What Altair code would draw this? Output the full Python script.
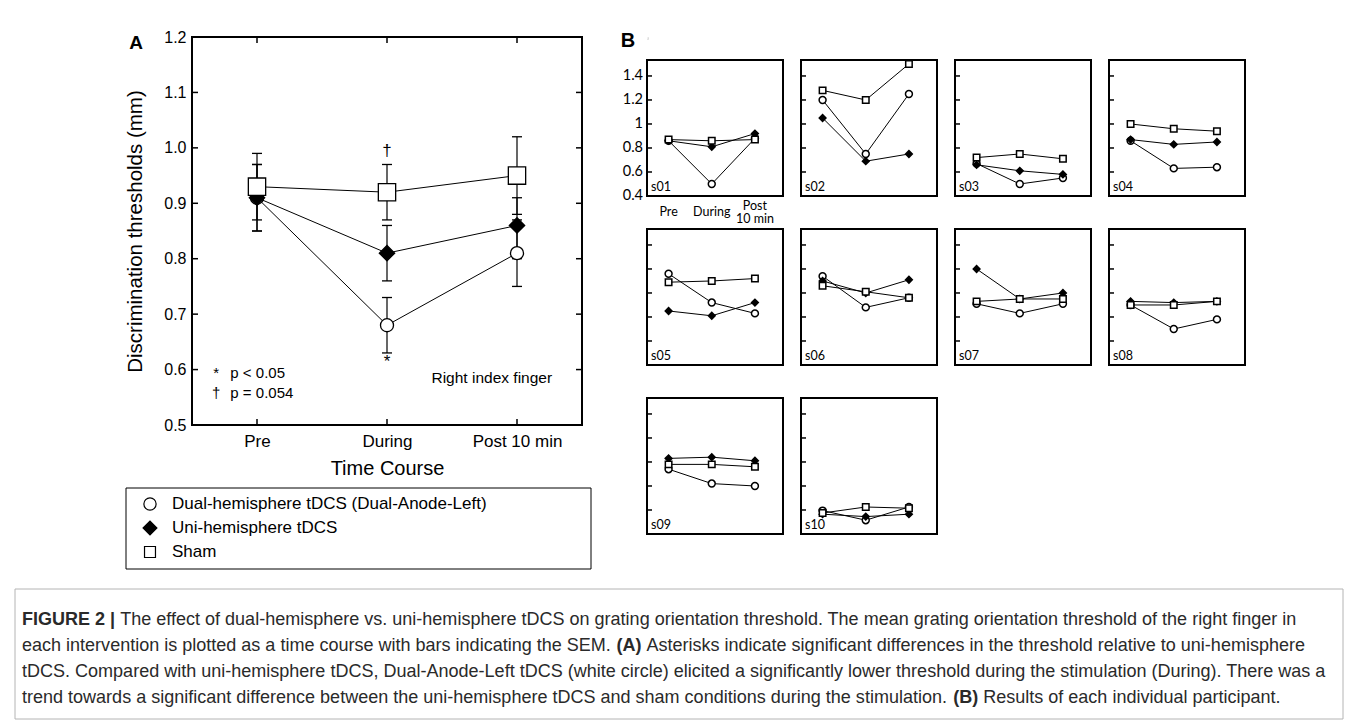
import json
import altair as alt
import pandas as pd

# ---------------- data ----------------
PHASES = ["Pre", "During", "Post 10 min"]
SERIES = ["Dual-hemisphere tDCS (Dual-Anode-Left)", "Uni-hemisphere tDCS", "Sham"]
SHAPES = ["circle", "diamond", "square"]
FILLS = ["white", "black", "white"]

A_dual_mean = [0.91, 0.68, 0.81]
A_dual_lo = [0.85, 0.63, 0.75]
A_dual_hi = [0.97, 0.73, 0.87]
A_uni_mean = [0.91, 0.81, 0.86]
A_uni_lo = [0.85, 0.76, 0.80]
A_uni_hi = [0.97, 0.86, 0.91]
A_sham_mean = [0.93, 0.92, 0.95]
A_sham_lo = [0.87, 0.87, 0.88]
A_sham_hi = [0.99, 0.97, 1.02]
A_yticks = [0.5, 0.6, 0.7, 0.8, 0.9, 1.0, 1.1, 1.2]

SIG_MARKS = ["\u2020", "*"]
SIG_Y = [0.995, 0.613]
NOTE_SYMBOLS = ["*", "\u2020"]
NOTE_TEXTS = ["p < 0.05", "p = 0.054"]
NOTE_Y = [0.593, 0.558]
PANEL_NOTE = "Right index finger"

B_SUBJECTS = ["s01", "s02", "s03", "s04", "s05", "s06", "s07", "s08", "s09", "s10"]
B_dual = {
    "s01": [0.86, 0.50, 0.88], "s02": [1.20, 0.75, 1.25], "s03": [0.67, 0.50, 0.55],
    "s04": [0.86, 0.63, 0.64], "s05": [1.16, 0.92, 0.83], "s06": [1.14, 0.88, 0.96],
    "s07": [0.91, 0.83, 0.91], "s08": [0.90, 0.70, 0.78], "s09": [0.94, 0.82, 0.80],
    "s10": [0.595, 0.515, 0.625],
}
B_uni = {
    "s01": [0.86, 0.81, 0.92], "s02": [1.05, 0.69, 0.75], "s03": [0.66, 0.61, 0.58],
    "s04": [0.87, 0.83, 0.85], "s05": [0.85, 0.81, 0.92], "s06": [1.10, 1.00, 1.11],
    "s07": [1.20, 0.95, 1.00], "s08": [0.93, 0.92, 0.93], "s09": [1.03, 1.04, 1.01],
    "s10": [0.565, 0.545, 0.565],
}
B_sham = {
    "s01": [0.87, 0.86, 0.87], "s02": [1.28, 1.20, 1.50], "s03": [0.72, 0.75, 0.71],
    "s04": [1.00, 0.96, 0.94], "s05": [1.09, 1.10, 1.12], "s06": [1.06, 1.01, 0.96],
    "s07": [0.93, 0.95, 0.95], "s08": [0.90, 0.90, 0.93], "s09": [0.98, 0.98, 0.96],
    "s10": [0.575, 0.625, 0.615],
}
B_yticks = [0.4, 0.6, 0.8, 1.0, 1.2, 1.4]
B_ytick_labels = ["0.4", "0.6", "0.8", "1", "1.2", "1.4"]
B_xlabels = ["Pre", "During", "Post\n10 min"]

CAPTION = [
    [("FIGURE 2 |", True),
     (" The effect of dual-hemisphere vs. uni-hemisphere tDCS on grating orientation threshold. "
      "The mean grating orientation threshold of the right finger in", False)],
    [("each intervention is plotted as a time course with bars indicating the SEM. ", False),
     ("(A)", True),
     (" Asterisks indicate significant differences in the threshold relative to uni-hemisphere", False)],
    [("tDCS. Compared with uni-hemisphere tDCS, Dual-Anode-Left tDCS (white circle) elicited a "
      "significantly lower threshold during the stimulation (During). There was a", False)],
    [("trend towards a significant difference between the uni-hemisphere tDCS and sham conditions "
      "during the stimulation. ", False),
     ("(B)", True),
     (" Results of each individual participant.", False)],
]

# ---------------- layout constants ----------------
FA = "Liberation Sans"
FB = "Lato"
WA, HA = 390, 388
A_X0, A_Y0 = 191, 36          # page position of panel A plot area


def px(x):
    return x - A_X0


def py(y):
    return y - A_Y0


# Arial / Helvetica advance widths (1/1000 em) for caption layout
REG = dict(zip("ABCDEFGHIJKLMNOPQRSTUVWXYZ",
               [667, 667, 722, 722, 667, 611, 778, 722, 278, 500, 667, 556, 833, 722, 778, 667,
                778, 722, 667, 611, 722, 667, 944, 667, 667, 611]))
REG.update(zip("abcdefghijklmnopqrstuvwxyz",
               [556, 556, 500, 556, 556, 278, 556, 556, 222, 222, 500, 222, 833, 556, 556, 556,
                556, 333, 500, 278, 556, 500, 722, 500, 500, 500]))
REG.update({" ": 278, ".": 278, ",": 278, "-": 333, "(": 333, ")": 333, "|": 260})
REG.update({d: 556 for d in "0123456789"})
BOLD = dict(zip("ABCDEFGHIJKLMNOPQRSTUVWXYZ",
                [722, 722, 722, 722, 667, 611, 778, 722, 278, 556, 722, 611, 833, 722, 778, 667,
                 778, 722, 667, 611, 722, 667, 944, 667, 667, 611]))
BOLD.update({" ": 278, "|": 280, "(": 333, ")": 333})
BOLD.update({d: 556 for d in "0123456789"})


def units(s, bold):
    tab = BOLD if bold else REG
    return sum(tab.get(c, 556) for c in s)


# ---------------- panel A ----------------
rows, caps = [], []
for s, m, lo, hi in zip(SERIES, [A_dual_mean, A_uni_mean, A_sham_mean],
                        [A_dual_lo, A_uni_lo, A_sham_lo], [A_dual_hi, A_uni_hi, A_sham_hi]):
    for i in range(3):
        rows.append(dict(series=s, idx=i, value=m[i], lo=lo[i], hi=hi[i]))
        caps.append(dict(idx=i, cap=lo[i]))
        caps.append(dict(idx=i, cap=hi[i]))
dfA = pd.DataFrame(rows)
dfCaps = pd.DataFrame(caps)

scaleXA = alt.Scale(domain=[-0.5, 2.5], nice=False, zero=False)
scaleYA = alt.Scale(domain=[0.5, 1.2], nice=False, zero=False)
axisXA = alt.Axis(values=[0, 1, 2], labelExpr=json.dumps(PHASES) + "[datum.value]",
                  ticks=False, domain=False, grid=False, labelFont=FA, labelFontSize=17,
                  labelColor="black", labelPadding=8, title="Time Course", titleFont=FA,
                  titleFontSize=20, titleFontWeight="normal", titleColor="black", titlePadding=9)
axisYA = alt.Axis(values=A_yticks, format=".1f", ticks=False, domain=False, grid=False,
                  labelFont=FA, labelFontSize=16, labelColor="black", labelPadding=6,
                  title="Discrimination thresholds (mm)", titleFont=FA, titleFontSize=20.5,
                  titleFontWeight="normal", titleColor="black", titlePadding=18)


def xA(f):
    return alt.X(f, type="quantitative", scale=scaleXA, axis=axisXA)


def yA(f):
    return alt.Y(f, type="quantitative", scale=scaleYA, axis=axisYA)


layersA = []
frameA = pd.DataFrame({"x0": [-0.5], "x1": [2.5], "y0": [0.5], "y1": [1.2]})
layersA.append(alt.Chart(frameA).mark_rect(filled=False, stroke="black", strokeWidth=2)
               .encode(x=xA("x0"), x2="x1", y=yA("y0"), y2="y1"))
dfYT = pd.DataFrame({"v": A_yticks})
dfXT = pd.DataFrame({"i": [0, 1, 2]})
layersA.append(alt.Chart(dfYT).mark_rule(color="black", strokeWidth=1.5)
               .encode(y=yA("v"), x=alt.value(0), x2=alt.value(6)))
layersA.append(alt.Chart(dfYT).mark_rule(color="black", strokeWidth=1.5)
               .encode(y=yA("v"), x=alt.value(WA - 6), x2=alt.value(WA)))
layersA.append(alt.Chart(dfXT).mark_rule(color="black", strokeWidth=1.5)
               .encode(x=xA("i"), y=alt.value(HA - 6), y2=alt.value(HA)))
layersA.append(alt.Chart(dfXT).mark_rule(color="black", strokeWidth=1.5)
               .encode(x=xA("i"), y=alt.value(0), y2=alt.value(6)))
layersA.append(alt.Chart(dfA).mark_rule(color="black", strokeWidth=1.2)
               .encode(x=xA("idx"), y=yA("lo"), y2="hi"))
layersA.append(alt.Chart(dfCaps).mark_tick(orient="horizontal", size=10, thickness=1.3,
                                           color="black", opacity=1)
               .encode(x=xA("idx"), y=yA("cap")))
layersA.append(alt.Chart(dfA).mark_line(color="black", strokeWidth=1)
               .encode(x=xA("idx"), y=yA("value"), detail="series:N"))
layersA.append(alt.Chart(dfA).mark_point(filled=True, stroke="black", strokeWidth=1.3, opacity=1)
               .encode(x=xA("idx"), y=yA("value"),
                       shape=alt.Shape("series:N", scale=alt.Scale(domain=SERIES, range=SHAPES), legend=None),
                       fill=alt.Fill("series:N", scale=alt.Scale(domain=SERIES, range=FILLS), legend=None),
                       size=alt.Size("series:O", scale=alt.Scale(domain=SERIES, range=[170, 300, 180]),
                                     legend=None)))

# significance marks above / below the During points
dfSig = pd.DataFrame({"idx": [1, 1], "value": SIG_Y, "t": SIG_MARKS})
layersA.append(alt.Chart(dfSig).mark_text(font=FA, fontSize=17, color="black", baseline="middle")
               .encode(x=xA("idx"), y=yA("value"), text="t:N"))
dfNoteS = pd.DataFrame({"idx": [-0.315, -0.315], "value": NOTE_Y, "t": NOTE_SYMBOLS})
layersA.append(alt.Chart(dfNoteS).mark_text(font=FA, fontSize=15, color="black", baseline="middle")
               .encode(x=xA("idx"), y=yA("value"), text="t:N"))
dfNoteT = pd.DataFrame({"idx": [-0.205, -0.205], "value": NOTE_Y, "t": NOTE_TEXTS})
layersA.append(alt.Chart(dfNoteT).mark_text(font=FA, fontSize=15, color="black", baseline="middle",
                                            align="left")
               .encode(x=xA("idx"), y=yA("value"), text="t:N"))
dfPN = pd.DataFrame({"idx": [2.27], "value": [0.584], "t": [PANEL_NOTE]})
layersA.append(alt.Chart(dfPN).mark_text(font=FA, fontSize=15.5, color="black", baseline="middle",
                                         align="right")
               .encode(x=xA("idx"), y=yA("value"), text="t:N"))

# panel letter A
layersA.append(alt.Chart(pd.DataFrame({"t": ["A"]})).mark_text(
    font=FA, fontSize=19, fontWeight="bold", color="black", baseline="middle")
    .encode(x=alt.value(px(135)), y=alt.value(py(42)), text="t:N"))

# legend box
LG_L, LG_R, LG_T, LG_B = 125, 590, 487, 568
layersA.append(alt.Chart(pd.DataFrame({"z": [0]})).mark_rect(filled=False, stroke="black", strokeWidth=1)
               .encode(x=alt.value(px(LG_L)), x2=alt.value(px(LG_R)),
                       y=alt.value(py(LG_T)), y2=alt.value(py(LG_B))))
LG_ROWS = [503, 527, 551]
LG_SIZES = [150, 190, 120]
for s, shp, fil, yy, sz in zip(SERIES, SHAPES, FILLS, LG_ROWS, LG_SIZES):
    d = pd.DataFrame({"t": [s]})
    layersA.append(alt.Chart(d).mark_point(filled=True, stroke="black", strokeWidth=1.2, opacity=1,
                                           shape=shp, fill=fil, size=sz)
                   .encode(x=alt.value(px(LG_L + 24)), y=alt.value(py(yy))))
    layersA.append(alt.Chart(d).mark_text(font=FA, fontSize=17, color="black", align="left",
                                          baseline="middle")
                   .encode(x=alt.value(px(LG_L + 46)), y=alt.value(py(yy)), text="t:N"))

# caption box and caption text
CAP_L, CAP_R, CAP_T, CAP_B = 14, 1342, 588, 718
layersA.append(alt.Chart(pd.DataFrame({"z": [0]})).mark_rect(filled=False, stroke="#b4b4b4",
                                                            strokeWidth=1)
               .encode(x=alt.value(px(CAP_L)), x2=alt.value(px(CAP_R)),
                       y=alt.value(py(CAP_T)), y2=alt.value(py(CAP_B))))
line1_units = sum(units(t, b) for t, b in CAPTION[0])
CAP_FS = 1276.0 / (line1_units / 1000.0)
CAP_X0 = 21
CAP_LINES_Y = [619, 645, 671, 697]
for segs, yy in zip(CAPTION, CAP_LINES_Y):
    cur = 0.0
    for t, b in segs:
        lead = len(t) - len(t.lstrip(" "))
        xs = CAP_X0 + (cur + lead * (BOLD if b else REG)[" "]) * CAP_FS / 1000.0
        cur += units(t, b)
        layersA.append(alt.Chart(pd.DataFrame({"t": [t.strip()]})).mark_text(
            font=FA, fontSize=CAP_FS, fontWeight="bold" if b else "normal", color="#2a2a2a",
            align="left", baseline="middle")
            .encode(x=alt.value(px(xs)), y=alt.value(py(yy)), text="t:N"))

# invisible anchor fixing the page origin (top-left corner of the drawing)
layersA.append(alt.Chart(pd.DataFrame({"z": [0]})).mark_rule(color="white", strokeWidth=1)
               .encode(x=alt.value(px(8.5)), x2=alt.value(px(20)), y=alt.value(py(8.5))))

panelA = alt.layer(*layersA).properties(width=WA, height=HA)

# ---------------- panel B ----------------
WB, HB = 136, 136
scaleXB = alt.Scale(domain=[-0.5, 2.65], nice=False, zero=False)
scaleYB = alt.Scale(domain=[0.4, 1.533], nice=False, zero=False)


def xB(f):
    return alt.X(f, type="quantitative", scale=scaleXB, axis=None)


def yB(f):
    return alt.Y(f, type="quantitative", scale=scaleYB, axis=None)


def b_panel(sid, first):
    rws = []
    for s, d in zip(SERIES, [B_dual, B_uni, B_sham]):
        for i, v in enumerate(d[sid]):
            rws.append(dict(series=s, idx=i, value=v))
    df = pd.DataFrame(rws)
    lay = []
    fr = pd.DataFrame({"x0": [-0.5], "x1": [2.65], "y0": [0.4], "y1": [1.533]})
    lay.append(alt.Chart(fr).mark_rect(filled=False, stroke="black", strokeWidth=2)
               .encode(x=xB("x0"), x2="x1", y=yB("y0"), y2="y1"))
    lay.append(alt.Chart(pd.DataFrame({"v": B_yticks})).mark_rule(color="black", strokeWidth=1.5)
               .encode(y=yB("v"), x=alt.value(0), x2=alt.value(5)))
    lay.append(alt.Chart(df).mark_line(color="black", strokeWidth=1)
               .encode(x=xB("idx"), y=yB("value"), detail="series:N"))
    lay.append(alt.Chart(df).mark_point(filled=True, stroke="black", strokeWidth=1.5, opacity=1)
               .encode(x=xB("idx"), y=yB("value"),
                       shape=alt.Shape("series:N", scale=alt.Scale(domain=SERIES, range=SHAPES), legend=None),
                       fill=alt.Fill("series:N", scale=alt.Scale(domain=SERIES, range=FILLS), legend=None),
                       size=alt.Size("series:O", scale=alt.Scale(domain=SERIES, range=[48, 42, 56]),
                                     legend=None)))
    lay.append(alt.Chart(pd.DataFrame({"t": [sid]})).mark_text(
        font=FB, fontSize=12.5, color="black", align="left", baseline="middle")
        .encode(x=alt.value(4), y=alt.value(HB - 9), text="t:N"))
    if first:
        lay.append(alt.Chart(pd.DataFrame({"v": B_yticks, "t": B_ytick_labels})).mark_text(
            font=FB, fontSize=14.5, color="black", align="right", baseline="middle")
            .encode(y=yB("v"), x=alt.value(-4), text="t:N"))
        dfx = pd.DataFrame({"idx": [0, 1, 2], "t": B_xlabels})
        one = dfx[~dfx["t"].str.contains("\n")]
        two = dfx[dfx["t"].str.contains("\n")]
        lay.append(alt.Chart(one).mark_text(
            font=FB, fontSize=12.5, color="black", align="center", baseline="middle")
            .encode(x=xB("idx"), y=alt.value(HB + 16), text="t:N"))
        lay.append(alt.Chart(two).mark_text(
            font=FB, fontSize=12.5, color="black", align="center", baseline="middle",
            lineBreak="\n", lineHeight=13)
            .encode(x=xB("idx"), y=alt.value(HB + 9.5), text="t:N"))
        lay.append(alt.Chart(pd.DataFrame({"t": ["B"]})).mark_text(
            font=FA, fontSize=20, fontWeight="bold", color="black", baseline="middle")
            .encode(x=alt.value(-19), y=alt.value(-19), text="t:N"))
    return alt.layer(*lay).properties(width=WB, height=HB)


grid = alt.concat(*[b_panel(s, s == "s01") for s in B_SUBJECTS], columns=4,
                  spacing={"row": 33, "column": 18}, bounds="flush")
spacer = alt.Chart(pd.DataFrame({"z": [0]})).mark_rule(color="white", strokeWidth=1).encode(
    x=alt.value(0), x2=alt.value(1), y=alt.value(1)).properties(width=1, height=2)
colB = alt.vconcat(spacer, grid, spacing=21, bounds="flush")

chart = (
    alt.hconcat(panelA, colB, spacing=65, bounds="flush")
    .resolve_scale(x="independent", y="independent", shape="independent",
                   fill="independent", size="independent")
    .properties(padding=0)
    .configure_view(stroke="transparent", strokeWidth=0)
    .configure(background="white")
)

chart.save("out.html", embed_options={"renderer": "svg", "actions": False})
